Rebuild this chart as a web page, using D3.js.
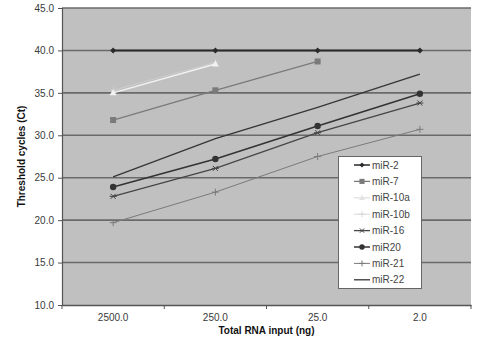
<!DOCTYPE html>
<html><head><meta charset="utf-8">
<script src="https://cdn.jsdelivr.net/npm/d3@7"></script>
<style>body{margin:0;background:#fff}svg{display:block}text{font-family:"Liberation Sans",Arial,sans-serif}</style>
</head><body><svg id="c" width="500" height="340"></svg>
<script>
const categories = ["2500.0", "250.0", "25.0", "2.0"];
const yTicks = [10, 15, 20, 25, 30, 35, 40, 45];
const seriesNames = ["miR-2", "miR-7", "miR-10a", "miR-10b", "miR-16", "miR20", "miR-21", "miR-22"];
const miR2 = [40.0, 40.0, 40.0, 40.0];
const miR7 = [31.8, 35.3, 38.7, null];
const miR10a = [35.0, 38.4, null, null];
const miR10b = [35.3, 38.6, null, null];
const miR16 = [22.8, 26.1, 30.3, 33.8];
const miR20 = [23.9, 27.2, 31.1, 34.9];
const miR21 = [19.7, 23.3, 27.5, 30.7];
const miR22 = [25.1, 29.6, 33.3, 37.2];

const values = [miR2, miR7, miR10a, miR10b, miR16, miR20, miR21, miR22];
const styles = [
  {color:"#2a2a2a", w:2, marker:"diamond"},
  {color:"#7a7a7a", w:1.3, marker:"square"},
  {color:"#f2f2f2", w:1.5, marker:"triangle"},
  {color:"#cdcdcd", w:1, marker:"plus"},
  {color:"#454545", w:1.3, marker:"star"},
  {color:"#333333", w:1.5, marker:"circle"},
  {color:"#7a7a7a", w:1, marker:"plus"},
  {color:"#353535", w:1.3, marker:null}
];
const svg = d3.select("#c");
const m = {l:62, r:29, t:8, b:35};
const W = 500, H = 340;
const x = d3.scaleBand().domain(categories).range([m.l, W - m.r]);
const y = d3.scaleLinear().domain([10, 45]).range([H - m.b, m.t]);

svg.append("rect").attr("x", m.l).attr("y", m.t).attr("width", W - m.r - m.l).attr("height", H - m.b - m.t).attr("fill", "#c0c0c0");

svg.append("g").selectAll("line").data(yTicks.filter(d => d > 10)).join("line")
  .attr("x1", m.l).attr("x2", W - m.r).attr("y1", d => y(d)).attr("y2", d => y(d))
  .attr("stroke", "#6a6a6a").attr("stroke-width", 1.6);

const ya = svg.append("g").attr("transform", `translate(${m.l},0)`)
  .call(d3.axisLeft(y).tickValues(yTicks).tickFormat(d3.format(".1f")).tickSize(4).tickPadding(4));
ya.select(".domain").attr("stroke", "#555").attr("stroke-width", 1.2);
ya.selectAll(".tick line").attr("stroke", "#555");
ya.selectAll("text").attr("font-size", 10).attr("fill", "#3a3a3a").attr("font-family", "Liberation Sans, Arial, sans-serif");

const xa = svg.append("g").attr("transform", `translate(0,${H - m.b})`)
  .call(d3.axisBottom(x).tickSize(0).tickPadding(9));
xa.select(".domain").attr("stroke", "#555").attr("stroke-width", 1.5);
xa.selectAll("text").attr("font-size", 10).attr("fill", "#3a3a3a").attr("font-family", "Liberation Sans, Arial, sans-serif");
const bounds = categories.map(c => x(c)).concat([x(categories[categories.length-1]) + x.bandwidth()]);
svg.append("g").selectAll("line").data(bounds).join("line")
  .attr("x1", d => d).attr("x2", d => d).attr("y1", H - m.b).attr("y2", H - m.b + 4)
  .attr("stroke", "#555");

svg.append("text").attr("x", (m.l + W - m.r) / 2).attr("y", 334).attr("text-anchor", "middle")
  .attr("font-size", 10).attr("font-weight", "bold").attr("fill", "#111").text("Total RNA input (ng)");
svg.append("text").attr("transform", `translate(25,${(m.t + H - m.b) / 2}) rotate(-90)`).attr("text-anchor", "middle")
  .attr("font-size", 10).attr("font-weight", "bold").attr("fill", "#111").text("Threshold cycles (Ct)");

function drawMarker(g, type, cx, cy, color, s) {
  s = s || 1;
  if (type === "diamond") g.append("path").attr("d", `M${cx},${cy-3*s}L${cx+3*s},${cy}L${cx},${cy+3*s}L${cx-3*s},${cy}Z`).attr("fill", color);
  else if (type === "square") g.append("rect").attr("x", cx-3*s).attr("y", cy-3*s).attr("width", 6*s).attr("height", 6*s).attr("fill", color);
  else if (type === "triangle") g.append("path").attr("d", `M${cx},${cy-3.5*s}L${cx+3.5*s},${cy+2.5*s}L${cx-3.5*s},${cy+2.5*s}Z`).attr("fill", color);
  else if (type === "circle") g.append("circle").attr("cx", cx).attr("cy", cy).attr("r", 3.2*s).attr("fill", color);
  else if (type === "plus") g.append("path").attr("d", `M${cx-3.5*s},${cy}H${cx+3.5*s}M${cx},${cy-3.5*s}V${cy+3.5*s}`).attr("stroke", color).attr("stroke-width", 1);
  else if (type === "star") g.append("path").attr("d", `M${cx-2.5*s},${cy-2.5*s}L${cx+2.5*s},${cy+2.5*s}M${cx-2.5*s},${cy+2.5*s}L${cx+2.5*s},${cy-2.5*s}M${cx-3.5*s},${cy}H${cx+3.5*s}`).attr("stroke", color).attr("stroke-width", 1);
}

const line = d3.line().defined(d => d.v != null).x(d => x(d.c) + x.bandwidth()/2).y(d => y(d.v));
const order = [3, 2, 1, 6, 4, 7, 5, 0];
order.forEach(i => {
  const pts = categories.map((c, j) => ({c, v: values[i][j]}));
  const st = styles[i];
  const g = svg.append("g");
  g.append("path").datum(pts).attr("d", line).attr("fill", "none").attr("stroke", st.color).attr("stroke-width", st.w);
  if (st.marker) pts.filter(p => p.v != null).forEach(p => drawMarker(g, st.marker, x(p.c) + x.bandwidth()/2, y(p.v), st.color));
});

const lg = svg.append("g");
lg.append("rect").attr("x", 338.5).attr("y", 156.5).attr("width", 83).attr("height", 132).attr("fill", "#fff").attr("stroke", "#666");
seriesNames.forEach((n, i) => {
  const ly = 165 + i * 16.4;
  const st = styles[i];
  const c = st.color === "#f2f2f2" ? "#e4e4e4" : (st.color === "#cdcdcd" ? "#d8d8d8" : st.color);
  lg.append("line").attr("x1", 354).attr("x2", 370).attr("y1", ly).attr("y2", ly).attr("stroke", c).attr("stroke-width", Math.min(st.w, 1.5));
  if (st.marker) drawMarker(lg, st.marker, 362, ly, c, 0.85);
  lg.append("text").attr("x", 372).attr("y", ly + 3.5).attr("font-size", 10).attr("fill", "#444").text(n);
});
</script></body></html>
